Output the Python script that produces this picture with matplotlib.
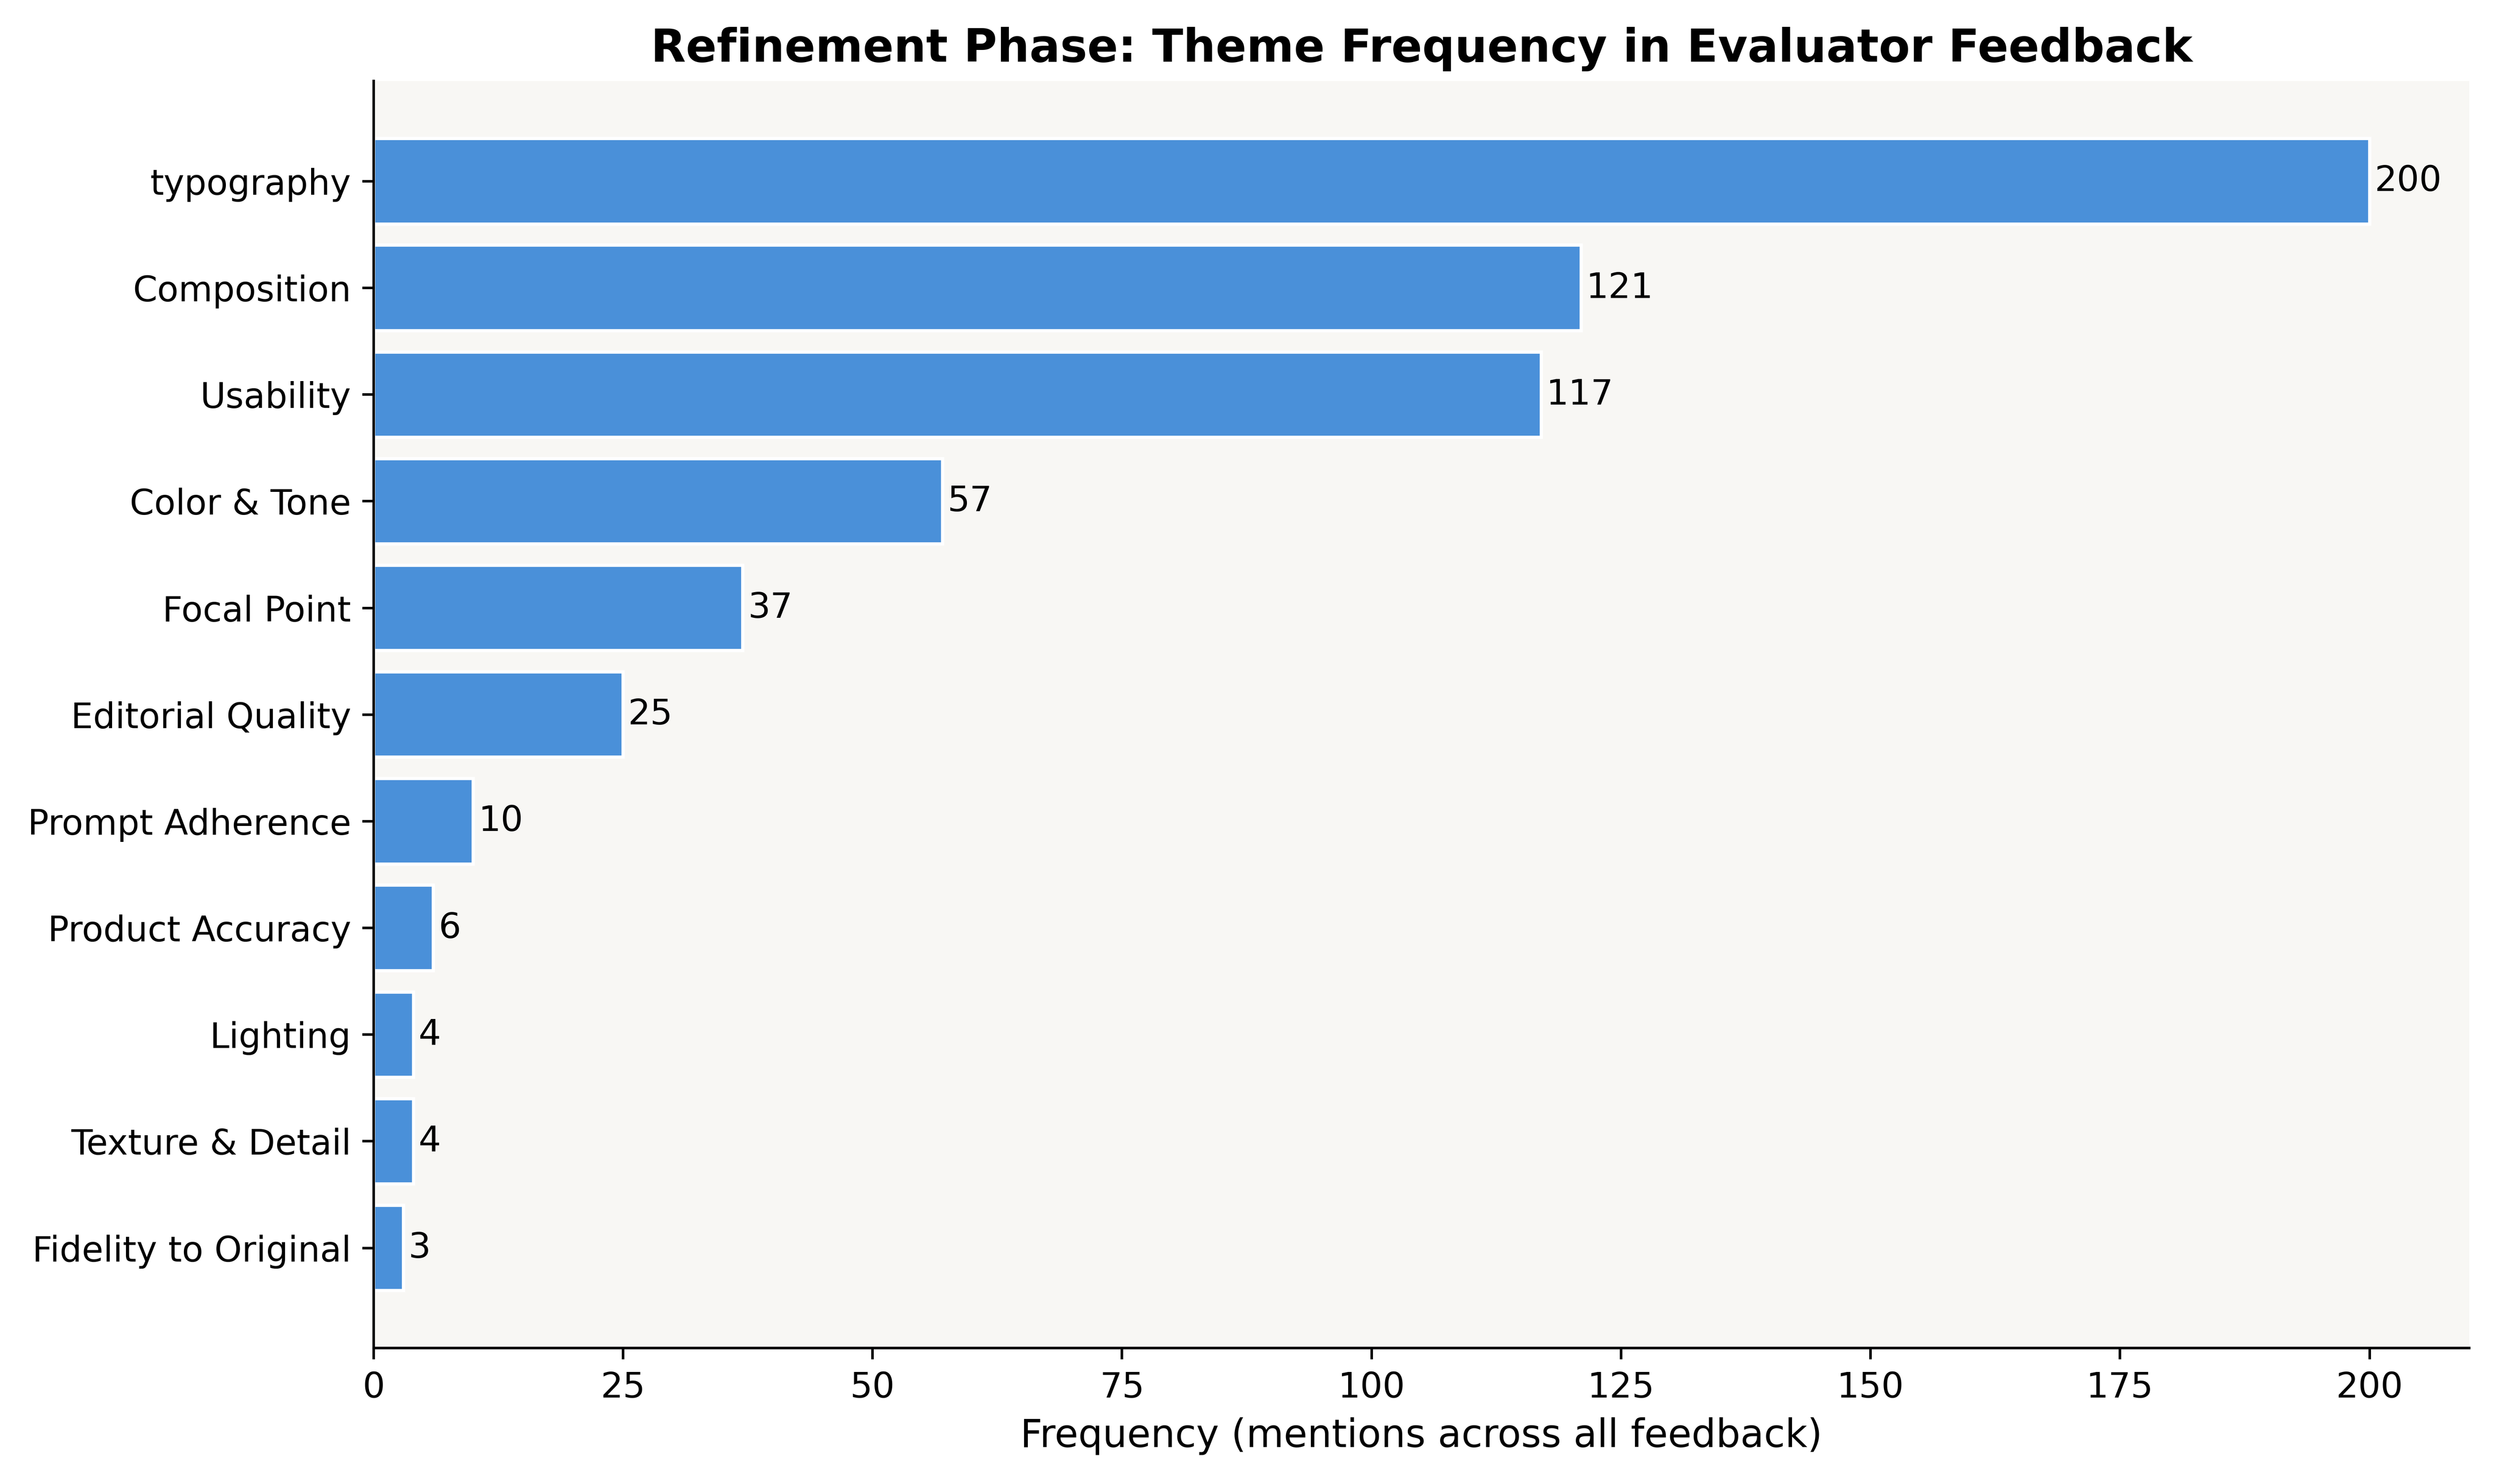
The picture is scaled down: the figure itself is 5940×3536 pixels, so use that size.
import matplotlib
matplotlib.use("Agg")
import matplotlib.pyplot as plt

categories = ["Fidelity to Original", "Texture & Detail", "Lighting", "Product Accuracy",
              "Prompt Adherence", "Editorial Quality", "Focal Point", "Color & Tone",
              "Usability", "Composition", "typography"]
values = [3, 4, 4, 6, 10, 25, 37, 57, 117, 121, 200]
xticks = [0, 25, 50, 75, 100, 125, 150, 175, 200]

DPI = 550
fig = plt.figure(figsize=(5940 / DPI, 3536 / DPI), dpi=DPI)
ax = fig.add_axes([0.1498, 0.0915, 0.9901 - 0.1498, 0.9454 - 0.0915])
ax.set_facecolor("#f8f7f4")

bars = ax.barh(categories, values, height=0.8, color="#4a90d9",
               edgecolor="white", linewidth=1.0)
for i, v in enumerate(values):
    ax.text(v + 0.5, i, str(v), va="center", ha="left", fontsize=11)

ax.set_xticks(xticks)
ax.tick_params(axis="both", labelsize=11)
ax.tick_params(axis="y", labelsize=10.9)
ax.set_xlabel("Frequency (mentions across all feedback)", fontsize=12)
ax.set_title("Refinement Phase: Theme Frequency in Evaluator Feedback",
             fontsize=14.2, fontweight="bold")
ax.spines["top"].set_visible(False)
ax.spines["right"].set_visible(False)

fig.savefig("out.png", dpi=DPI)
